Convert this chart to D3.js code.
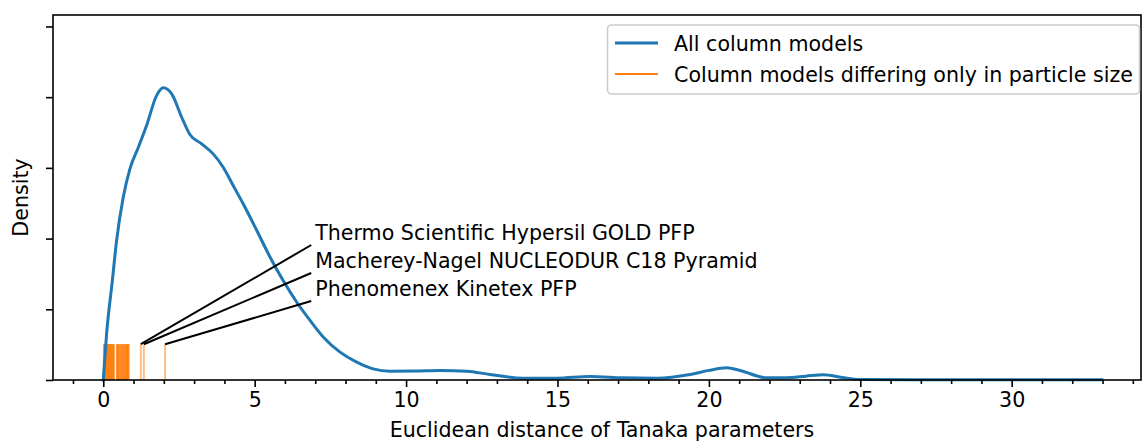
<!DOCTYPE html>
<html>
<head>
<meta charset="utf-8">
<script src="https://cdn.jsdelivr.net/npm/d3@7"></script>
<style>
  html, body { margin: 0; padding: 0; background: #fff; }
  svg { display: block; font-family: "DejaVu Sans", sans-serif; }
</style>
</head>
<body>
<svg id="chart" width="1142" height="441"></svg>
<script>
// Kernel density estimate of Euclidean distances between column models (x, density)
const kdeX = [0.00, 0.11, 0.30, 0.44, 0.66, 0.88, 1.16, 1.43, 1.76, 1.98, 2.26, 2.59, 2.86,
  3.25, 3.63, 3.96, 4.29, 4.62, 5.07, 5.51, 5.94, 6.39, 6.83, 7.27, 7.82, 8.37, 8.91, 9.47,
  10.30, 11.12, 12.00, 12.77, 13.86, 14.97, 16.07, 17.16, 18.28, 19.38, 20.00, 20.59, 21.03,
  21.91, 22.57, 23.20, 23.78, 24.40, 24.99, 27.00, 30.00, 32.98];
const kdeY = [0.0000, 0.0327, 0.0703, 0.0986, 0.1292, 0.1493, 0.1646, 0.1799, 0.2011, 0.2066,
  0.2023, 0.1858, 0.1736, 0.1670, 0.1599, 0.1504, 0.1375, 0.1246, 0.1057, 0.0868, 0.0703,
  0.0550, 0.0421, 0.0303, 0.0197, 0.0126, 0.0079, 0.0062, 0.0063, 0.0067, 0.0062, 0.0039,
  0.0013, 0.0013, 0.0025, 0.0016, 0.0013, 0.0039, 0.0068, 0.0086, 0.0067, 0.0016, 0.0016,
  0.0027, 0.0037, 0.0018, 0.0004, 0.0002, 0.0001, 0.0001];

// Distances of column pairs differing only in particle size (rug marks)
const rugValues = [0.02, 0.03, 0.04, 0.05, 0.06, 0.07, 0.08, 0.09, 0.10, 0.11, 0.12, 0.13,
  0.14, 0.15, 0.16, 0.17, 0.18, 0.19, 0.20, 0.21, 0.22, 0.23, 0.24, 0.25, 0.26, 0.27,
  0.28, 0.29, 0.30, 0.31, 0.32, 0.33, 0.34, 0.35,
  0.45, 0.46, 0.47, 0.48, 0.49, 0.50, 0.51, 0.52, 0.53,
  0.58, 0.59, 0.60, 0.61, 0.62,
  0.66, 0.67, 0.68, 0.69, 0.70,
  0.74, 0.75, 0.76, 0.77, 0.78, 0.79, 0.80, 0.81, 0.82, 0.83, 0.84,
  1.24, 1.34, 2.04];

// Labelled outliers
const annotLabels = ["Thermo Scientific Hypersil GOLD PFP",
  "Macherey-Nagel NUCLEODUR C18 Pyramid",
  "Phenomenex Kinetex PFP"];
const annotValues = [1.24, 1.34, 2.04];

const xTicks = [0, 5, 10, 15, 20, 25, 30];
const xMinorTicks = d3.range(-1, 35);
const yTicks = [0, 0.05, 0.10, 0.15, 0.20, 0.25];

const seriesNames = ["All column models", "Column models differing only in particle size"];
const xLabel = "Euclidean distance of Tanaka parameters";
const yLabel = "Density";

const blue = "#1f77b4", orange = "#ff7f0e";
const fontSize = 20.6;

const plotL = 53, plotR = 1141, plotT = 15, plotB = 380;
const svg = d3.select("#chart");

const x = d3.scaleLinear().domain([-1.66, 34.27]).range([plotL, plotR]);
const y = d3.scaleLinear().domain([0, 0.2581]).range([plotB, plotT]);

// Rug
const rugTop = plotB - (plotB - plotT) * 0.098;
svg.append("g").selectAll("line").data(rugValues).join("line")
  .attr("x1", d => x(d)).attr("x2", d => x(d))
  .attr("y1", plotB).attr("y2", rugTop)
  .attr("stroke", orange).attr("stroke-opacity", 0.5).attr("stroke-width", 2);

// Density curve
const pts = kdeX.map((v, i) => [v, kdeY[i]]);
svg.append("path").datum(pts)
  .attr("d", d3.line().x(d => x(d[0])).y(d => y(d[1])).curve(d3.curveMonotoneX))
  .attr("fill", "none").attr("stroke", blue).attr("stroke-width", 3)
  .attr("stroke-linejoin", "round").attr("stroke-linecap", "square");

// Annotations
const annX = x(7.0);
const annG = svg.append("g");
annotLabels.forEach((lab, i) => {
  const base = 240 + 28 * i;
  annG.append("line")
    .attr("x1", x(annotValues[i])).attr("y1", rugTop)
    .attr("x2", annX - 4).attr("y2", base + 5)
    .attr("stroke", "#000").attr("stroke-width", 2);
  annG.append("text").attr("x", annX).attr("y", base)
    .attr("font-size", fontSize).attr("fill", "#000").text(lab);
});

// Axes
const xAxis = svg.append("g").attr("transform", `translate(0,${plotB})`)
  .call(d3.axisBottom(x).tickValues(xTicks).tickSize(7).tickPadding(5).tickFormat(d3.format("d")));
const xMinor = svg.append("g").attr("transform", `translate(0,${plotB})`)
  .call(d3.axisBottom(x).tickValues(xMinorTicks.filter(v => v % 5 !== 0)).tickSize(4).tickFormat(""));
const yAxis = svg.append("g").attr("transform", `translate(${plotL},0)`)
  .call(d3.axisLeft(y).tickValues(yTicks).tickSize(7).tickFormat(""));
[xAxis, xMinor, yAxis].forEach(g => {
  g.select(".domain").remove();
  g.selectAll(".tick line").attr("stroke", "#000").attr("stroke-width", 1.6);
  g.selectAll(".tick text").attr("font-size", fontSize).attr("fill", "#000")
    .attr("font-family", "DejaVu Sans, sans-serif");
});

// Frame
svg.append("rect").attr("x", plotL).attr("y", plotT)
  .attr("width", plotR - plotL).attr("height", plotB - plotT)
  .attr("fill", "none").attr("stroke", "#000").attr("stroke-width", 1.6);

// Axis labels
svg.append("text").attr("x", 602).attr("y", 437)
  .attr("text-anchor", "middle").attr("font-size", fontSize).text(xLabel);
svg.append("text").attr("transform", `translate(28,${(plotT + plotB) / 2}) rotate(-90)`)
  .attr("text-anchor", "middle").attr("font-size", fontSize).text(yLabel);

// Legend
const lg = svg.append("g");
lg.append("rect").attr("x", 607.5).attr("y", 25).attr("width", 532).attr("height", 69)
  .attr("rx", 4).attr("fill", "#fff").attr("fill-opacity", 0.8)
  .attr("stroke", "#ccc").attr("stroke-width", 1.6);
[blue, orange].forEach((c, i) => {
  const yy = 43 + 31 * i;
  lg.append("line").attr("x1", 615).attr("x2", 658).attr("y1", yy).attr("y2", yy)
    .attr("stroke", c).attr("stroke-width", i === 0 ? 3 : 2);
  lg.append("text").attr("x", 674).attr("y", yy + 7.5).attr("font-size", fontSize)
    .text(seriesNames[i]);
});
</script>
</body>
</html>
